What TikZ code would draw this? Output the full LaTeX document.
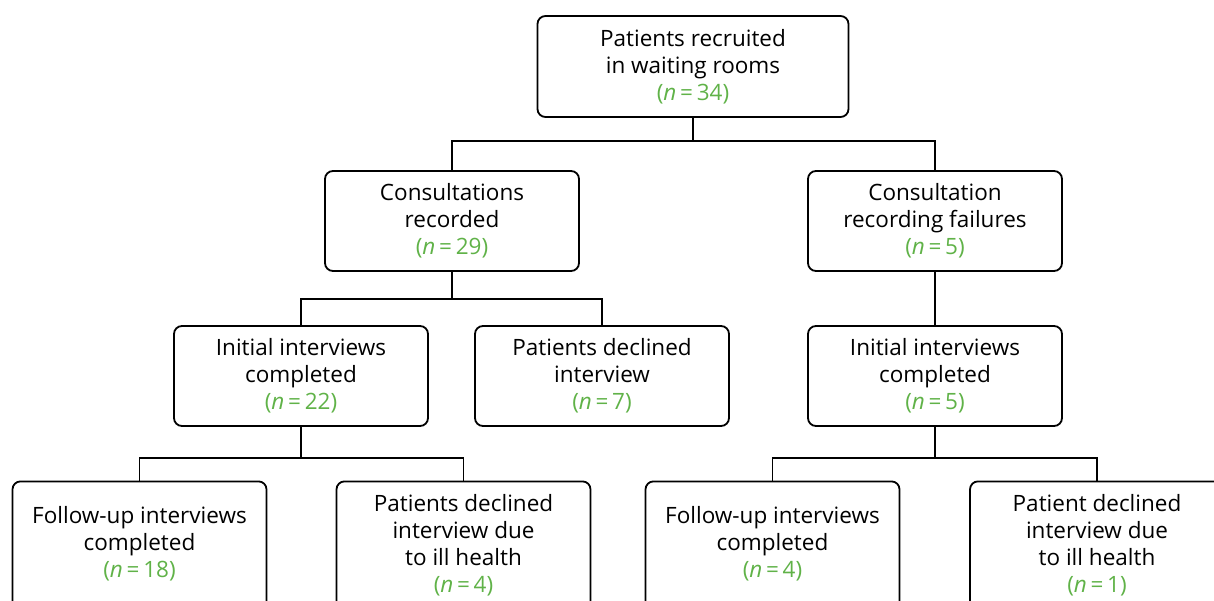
\documentclass[tikz,border=0pt]{standalone}
\usepackage{fontspec}
\setmainfont{Open Sans}
\definecolor{countgreen}{RGB}{96,178,72}
\newcommand{\countof}[1]{\textcolor{countgreen}{(\textit{n}\,=\,#1)}}

\begin{document}
\begin{tikzpicture}[x=1pt,y=-1pt,
  txt/.style={align=center, inner sep=0pt, font=\fontsize{22.5}{27}\selectfont},
  box/.style={txt, draw, line width=1.8pt, rounded corners=8pt,
              minimum width=254pt, minimum height=100pt},
  openbox/.style={draw, line width=1.8pt, rounded corners=8pt,
              minimum width=254pt, minimum height=220pt, anchor=north, inner sep=0pt},
  link/.style={line width=1.8pt}]

\useasboundingbox (0,0) rectangle (1214,601);
\clip (0,0) rectangle (1214,601);

% top level
\node[box, minimum width=311pt, minimum height=101pt] (top) at (693,66.5)
  {Patients recruited\\in waiting rooms\\\countof{34}};

% second level
\node[box] (rec)  at (452,221) {Consultations\\recorded\\\countof{29}};
\node[box] (fail) at (935,221) {Consultation\\recording failures\\\countof{5}};

% third level
\node[box] (initA) at (301,376) {Initial interviews\\completed\\\countof{22}};
\node[box] (decl)  at (602,376) {Patients declined\\interview\\\countof{7}};
\node[box] (initB) at (935,376) {Initial interviews\\completed\\\countof{5}};

% fourth level: boxes run past the lower edge
\node[openbox] (fupA)  at (139.5,480.5) {};
\node[openbox] (illA)  at (463.5,480.5) {};
\node[openbox] (fupB)  at (772.5,480.5) {};
\node[openbox] (illB)  at (1097,480.5) {};

\node[txt] (fupAt) at (139.5,543.5) {Follow-up interviews\\completed\\\countof{18}};
\node[txt] (illAt) at (463.5,545) {Patients declined\\interview due\\to ill health\\\countof{4}};
\node[txt] (fupBt) at (772.5,543.5) {Follow-up interviews\\completed\\\countof{4}};
\node[txt] (illBt) at (1097,545) {Patient declined\\interview due\\to ill health\\\countof{1}};

% connectors
\draw[link] (top.south) -- ++(0,23) coordinate (j1);
\draw[link] (rec.north) |- (j1) -| (fail.north);

\draw[link] (rec.south) -- ++(0,27) coordinate (j2);
\draw[link] (initA.north) |- (j2) -| (decl.north);
\draw[link] (fail.south) -- (initB.north);

\draw[link] (initA.south) -- ++(0,31) coordinate (j3);
\draw[link] (fupA.north) |- (j3) -| (illA.north);

\draw[link] (initB.south) -- ++(0,31) coordinate (j4);
\draw[link] (fupB.north) |- (j4) -| (illB.north);
\end{tikzpicture}
\end{document}
